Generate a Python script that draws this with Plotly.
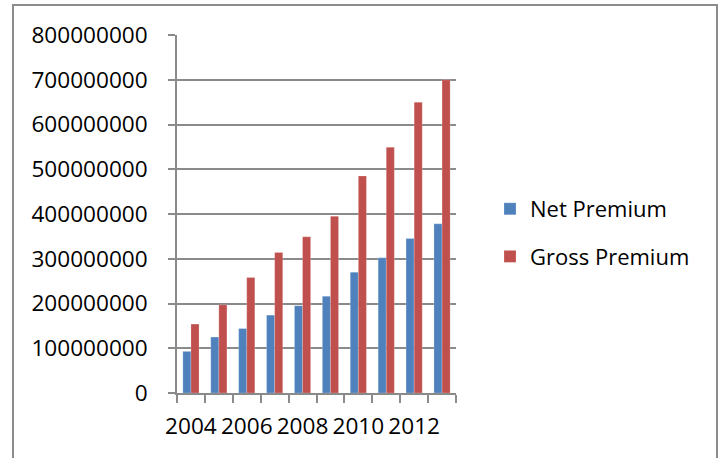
import plotly.graph_objects as go

years = [2004, 2005, 2006, 2007, 2008, 2009, 2010, 2011, 2012, 2013]
net_premium = [93e6, 125e6, 144e6, 174e6, 195e6, 216e6, 270e6, 302e6, 345e6, 378e6]
gross_premium = [154e6, 197e6, 258e6, 314e6, 349e6, 395e6, 485e6, 549e6, 650e6, 700e6]
series_names = ["Net Premium", "Gross Premium"]
colors = ["#4F81BD", "#C0504D"]
y_ticks = [0, 100e6, 200e6, 300e6, 400e6, 500e6, 600e6, 700e6, 800e6]

FONT = "Open Sans"
FS = 22
TFS = 22.6
GRID = "#8a8a8a"

fig = go.Figure()
for i, (name, vals) in enumerate(zip(series_names, [net_premium, gross_premium])):
    fig.add_trace(go.Bar(
        x=years, y=vals, name=name, legendgroup=name,
        marker=dict(color=colors[i], line=dict(color="rgba(255,255,255,0.35)", width=0.6)),
    ))

W, H = 723, 458
L, R, T, B = 177, 456, 35, 393
pw, ph = R - L, B - T

def px(x):
    return (x - L) / pw

def py(y):
    return (B - y) / ph

fig.update_layout(
    width=W, height=H,
    margin=dict(l=L, r=W - R, t=T, b=H - B, pad=0, autoexpand=False),
    paper_bgcolor="white", plot_bgcolor="white",
    barmode="group", bargap=0.42, bargroupgap=0,
    font=dict(family=FONT, size=FS, color="#000000"),
    showlegend=True,
    legend=dict(
        x=px(490), y=py(233), xanchor="left", yanchor="middle",
        font=dict(family=FONT, size=FS, color="#000000"),
        tracegroupgap=16, traceorder="grouped",
        bgcolor="rgba(0,0,0,0)",
    ),
    xaxis=dict(
        range=[years[0] - 0.5, years[-1] + 0.5],
        tickmode="array", tickvals=years[::2], ticktext=[str(y) for y in years[::2]],
        ticks="", showgrid=False, zeroline=False,
        showline=True, linecolor=GRID, linewidth=1.5,
        ticklabelstandoff=12,
        minor=dict(tickmode="array", tickvals=[y - 0.5 for y in years] + [years[-1] + 0.5],
                   ticks="outside", ticklen=8, tickcolor=GRID, tickwidth=1.5, showgrid=False),
        tickfont=dict(family=FONT, size=TFS, color="#000000"),
        fixedrange=True,
    ),
    yaxis=dict(
        range=[0, 800e6], tickmode="array", tickvals=y_ticks,
        tickformat="d", exponentformat="none",
        showgrid=True, gridcolor=GRID, gridwidth=1.5,
        zeroline=False, showline=True, linecolor=GRID, linewidth=1.5,
        ticks="outside", ticklen=7, tickcolor=GRID, tickwidth=1.5,
        ticklabelstandoff=16,
        tickfont=dict(family=FONT, size=TFS, color="#000000"),
        fixedrange=True,
    ),
)

# outer chart-area border (bottom edge falls below the visible area)
fig.add_shape(type="rect", xref="paper", yref="paper",
              x0=px(13), x1=px(717), y0=py(475), y1=py(5),
              line=dict(color="#8c8c8c", width=2), fillcolor="rgba(0,0,0,0)", layer="below")

fig.write_html("out.html", config={"displayModeBar": False},
               post_script="document.body.style.margin='0';document.body.style.overflow='hidden';")
